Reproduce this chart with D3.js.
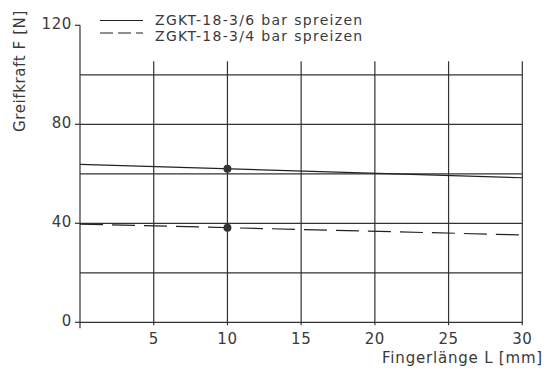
<!DOCTYPE html>
<html><head><meta charset="utf-8">
<script src="https://cdn.jsdelivr.net/npm/d3@7"></script>
<style>body{margin:0;background:#fff}svg{display:block}text{font-family:"DejaVu Sans",sans-serif;fill:#3a3a3a}</style>
</head><body><svg id="c" width="552" height="372"></svg>
<script>
const seriesNames = ["ZGKT-18-3/6 bar spreizen", "ZGKT-18-3/4 bar spreizen"];
const seriesDash = ["none", "23,9"];
const legendDash = ["none", "13,5"];
const lengthsL = [0, 30];
const force6bar = [63.8, 58.4];
const force4bar = [39.7, 35.3];
const markerL = [10, 10];
const markerF = [62, 38.2];
const xTicks = [5, 10, 15, 20, 25, 30];
const yGrid = [20, 40, 60, 80, 100];
const yLabels = [0, 40, 80, 120];

const svg = d3.select("#c");
const x = d3.scaleLinear().domain([0, 30]).range([80, 522.3]);
const y = d3.scaleLinear().domain([0, 120]).range([322.3, 25.3]);
const ink = "#333";

// horizontal grid
svg.append("g").selectAll("line").data(yGrid).join("line")
  .attr("x1", x(0)).attr("x2", x(30))
  .attr("y1", d => y(d)).attr("y2", d => y(d))
  .attr("stroke", ink).attr("stroke-width", 1.2);
// vertical grid
svg.append("g").selectAll("line").data(xTicks).join("line")
  .attr("x1", d => x(d)).attr("x2", d => x(d))
  .attr("y1", y(105.5)).attr("y2", y(0) + 3)
  .attr("stroke", ink).attr("stroke-width", 1.2);
// axes
svg.append("line").attr("x1", x(0)).attr("x2", x(0)).attr("y1", y(120)).attr("y2", y(0) + 6)
  .attr("stroke", ink).attr("stroke-width", 1.2);
svg.append("line").attr("x1", x(0)).attr("x2", x(30)).attr("y1", y(0)).attr("y2", y(0))
  .attr("stroke", ink).attr("stroke-width", 1.2);
// y ticks
const yt = svg.append("g").selectAll("g").data(yLabels).join("g");
yt.append("line").attr("x1", x(0) - 5).attr("x2", x(0)).attr("y1", d => y(d)).attr("y2", d => y(d))
  .attr("stroke", ink).attr("stroke-width", 1.2);
yt.append("text").attr("x", 72).attr("y", d => y(d)).attr("dy", "0.22em")
  .attr("text-anchor", "end").attr("font-size", 15).attr("letter-spacing", 0.6).text(d => d);
// x tick labels
svg.append("g").selectAll("text").data(xTicks).join("text")
  .attr("x", d => x(d)).attr("y", 344).attr("text-anchor", "middle").attr("font-size", 15)
  .attr("letter-spacing", 0.6).text(d => d);
// axis titles
svg.append("text").attr("x", 543).attr("y", 363).attr("text-anchor", "end").attr("font-size", 15)
  .attr("letter-spacing", 0.8).text("Fingerlänge L [mm]");
svg.append("text").attr("transform", "translate(25,71) rotate(-90)").attr("text-anchor", "middle")
  .attr("font-size", 15).attr("letter-spacing", 0.6).text("Greifkraft F [N]");

// lines
const series = [force6bar, force4bar];
const line = d3.line().x((d, i) => x(lengthsL[i])).y(d => y(d));
series.forEach((s, k) => {
  svg.append("path").attr("d", line(s)).attr("fill", "none").attr("stroke", "#222")
    .attr("stroke-width", 1.2).attr("stroke-dasharray", seriesDash[k]);
});
// markers
svg.append("g").selectAll("circle").data(markerF).join("circle")
  .attr("cx", (d, i) => x(markerL[i])).attr("cy", d => y(d)).attr("r", 4).attr("fill", "#333");

// legend
const lg = svg.append("g").selectAll("g").data(seriesNames).join("g");
lg.append("line").attr("x1", 100).attr("x2", 143)
  .attr("y1", (d, i) => 20.5 + i * 12.5).attr("y2", (d, i) => 20.5 + i * 12.5)
  .attr("stroke", "#222").attr("stroke-width", 1.2).attr("stroke-dasharray", (d, i) => legendDash[i]);
lg.append("text").attr("x", 155).attr("y", (d, i) => 24.5 + i * 16).attr("font-size", 14)
  .attr("letter-spacing", 1.3).text(d => d);
</script></body></html>
